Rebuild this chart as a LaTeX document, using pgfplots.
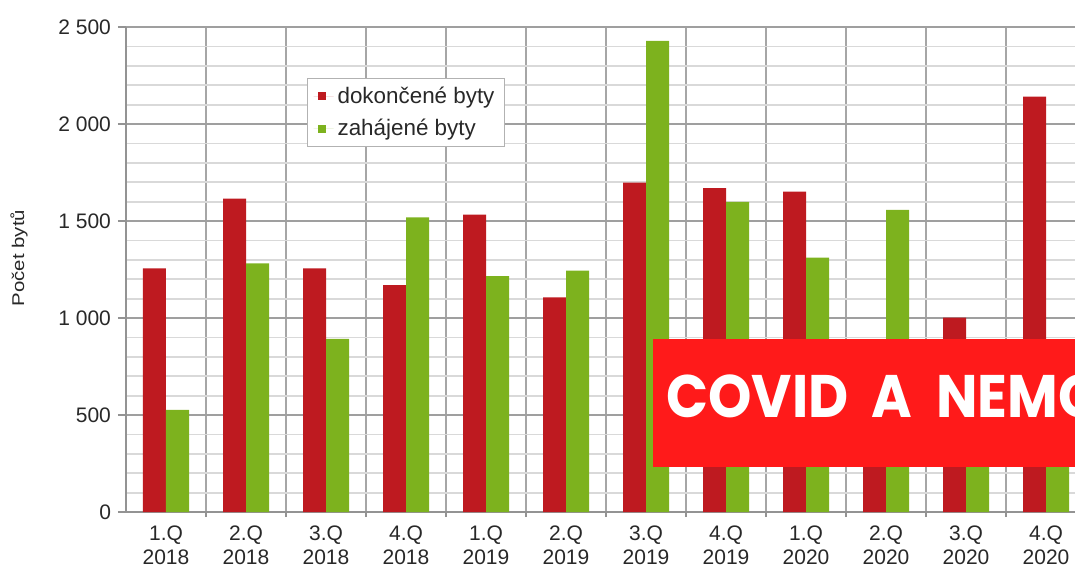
\documentclass[border=0pt]{standalone}
\usepackage{graphicx}
\usepackage{pgfplots}
\pgfplotsset{compat=1.18}
\usepackage{fontspec}
\setmainfont{Liberation Sans}
\newfontfamily\bannerfont{Poppins}
\definecolor{barred}{RGB}{190,26,32}
\definecolor{bargreen}{RGB}{125,178,30}
\definecolor{bannerred}{RGB}{255,26,26}
\definecolor{txt}{RGB}{40,40,40}
\begin{document}
\begin{tikzpicture}[x=1pt,y=1pt]
\begin{axis}[
  at={(0pt,0pt)}, anchor=south west,
  width=474.5pt, height=242.5pt, scale only axis,
  xmin=-0.5, xmax=11.3625, ymin=0, ymax=2500,
  enlargelimits=false,
  ybar=0pt, bar width=11.5pt,
  axis x line*=bottom, axis y line*=left,
  axis line style={draw=gray!85, line width=0.8pt},
  xtick={0,...,11},
  xticklabels={{1.Q\\2018},{2.Q\\2018},{3.Q\\2018},{4.Q\\2018},{1.Q\\2019},{2.Q\\2019},{3.Q\\2019},{4.Q\\2019},{1.Q\\2020},{2.Q\\2020},{3.Q\\2020},{4.Q\\2020}},
  xticklabel style={align=center, font=\fontsize{10.5}{12}\selectfont, text=txt, yshift=0.5pt},
  minor xtick={0.5,1.5,...,11.5},
  ytick={0,500,...,2500},
  minor ytick={100,200,...,2400},
  yticklabel style={font=\fontsize{10.5}{13}\selectfont, text=txt},
  /pgf/number format/assume math mode=true,
  /pgf/number format/1000 sep={\ },
  xmajorgrids=false, xminorgrids=true, ymajorgrids=true, yminorgrids=true,
  major grid style={draw=gray!75, line width=0.8pt},
  minor y grid style={draw=gray!30, line width=0.9pt},
  minor x grid style={draw=gray!70, line width=0.8pt},
  tick align=outside,
  major tick length=4pt, minor tick length=2.5pt,
  tick style={draw=gray!85, line width=0.8pt},
  major x tick style={draw=none},
  minor y tick style={draw=none},
  legend cell align=left,
  legend style={at={(0.1907,0.8948)}, anchor=north west, draw=gray!60, line width=0.6pt, fill=white,
    font=\fontsize{11.2}{13}\selectfont, text=txt, inner xsep=3pt, inner ysep=2pt, row sep=2.5pt},
  legend image code/.code={\fill[#1] (2pt,-2pt) rectangle (6pt,2pt); \path (0pt,0pt) -- (10pt,0pt);},
]
\addplot[fill=barred, draw=none] coordinates {
(0,1256) (1,1615) (2,1256) (3,1170) (4,1533) (5,1107)
(6,1698) (7,1670) (8,1651) (9,800) (10,1002) (11,2141)};
\addplot[fill=bargreen, draw=none] coordinates {
(0,526) (1,1282) (2,893) (3,1519) (4,1216) (5,1244)
(6,2428) (7,1598) (8,1311) (9,1557) (10,700) (11,850)};
\legend{dokončené byty, zahájené byty}
\end{axis}
\node[rotate=90, text=txt, font=\fontsize{8.5}{10}\selectfont] at (-53.5pt,127pt) {\scalebox{1.2}[1]{Počet bytů}};
\fill[bannerred] (263.5pt,22.5pt) rectangle (540pt,86.5pt);
\node[anchor=base west, inner sep=0pt, text=white, font=\bannerfont\bfseries\fontsize{30}{30}\selectfont] at (270pt,47.5pt) {\scalebox{0.92}[1]{COVID\ \ A\ \ NEMO}};
\pgfresetboundingbox
\useasboundingbox (-63pt,-28.5pt) rectangle (474.5pt,256pt);
\end{tikzpicture}
\end{document}
